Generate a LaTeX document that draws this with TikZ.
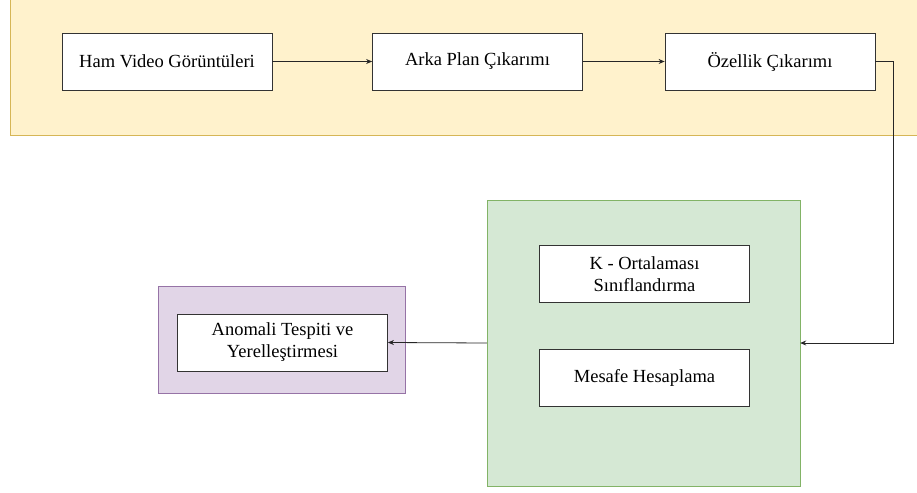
\documentclass[tikz,border=0pt]{standalone}
\usepackage{fontspec}
\setmainfont{Liberation Serif}
\usetikzlibrary{arrows.meta}
\definecolor{yfill}{HTML}{FFF2CC}
\definecolor{yline}{HTML}{D6B656}
\definecolor{gfill}{HTML}{D5E8D4}
\definecolor{gline}{HTML}{82B366}
\definecolor{pfill}{HTML}{E1D5E7}
\definecolor{pline}{HTML}{9673A6}
\tikzset{
  stepbox/.style={draw=black!80, fill=white, line width=0.8pt, minimum width=210pt, minimum height=57pt, align=center, inner sep=2pt, font=\fontsize{18.5}{22}\selectfont},
  flow/.style={draw=black!85, line width=0.8pt, -{Stealth[length=6pt,width=5pt]}}
}

\begin{document}
\begin{tikzpicture}[x=1pt, y=-1pt]
        \useasboundingbox (0,0) rectangle (917,492);
        % Areas
        \filldraw[fill=yfill, draw=yline, line width=0.8pt] (10,-5) rectangle (925,135);
        \filldraw[fill=gfill, draw=gline, line width=0.8pt] (487,200) rectangle (800,486);
        \filldraw[fill=pfill, draw=pline, line width=0.8pt] (158,286) rectangle (405,393);
        \node[draw=none, minimum width=313pt, minimum height=286pt, inner sep=0pt] (stage) at (643.5,343) {};
        % Steps
        \node[stepbox] (ham) at (167,61.5) {Ham Video Görüntüleri};
        \node[stepbox] (arka) at (477.5,61.5) {Arka Plan Çıkarımı};
        \node[stepbox] (ozel) at (770,61.5) {Özellik Çıkarımı};
        \node[stepbox] (kort) at (644.5,274) {K - Ortalaması\\Sınıflandırma};
        \node[stepbox] (mesafe) at (644.5,378) {Mesafe Hesaplama};
        \node[stepbox] (anomali) at (282.5,342.5) {Anomali Tespiti ve\\Yerelleştirmesi};
        % Connectors
        \draw[flow] (ham) -- (arka);
        \draw[flow] (arka) -- (ozel);
        \draw[flow] (ozel.east) -- ++(18,0) |- (stage.east);
        \draw[flow] (stage.west) -- (anomali.east);
    \end{tikzpicture}
\end{document}
